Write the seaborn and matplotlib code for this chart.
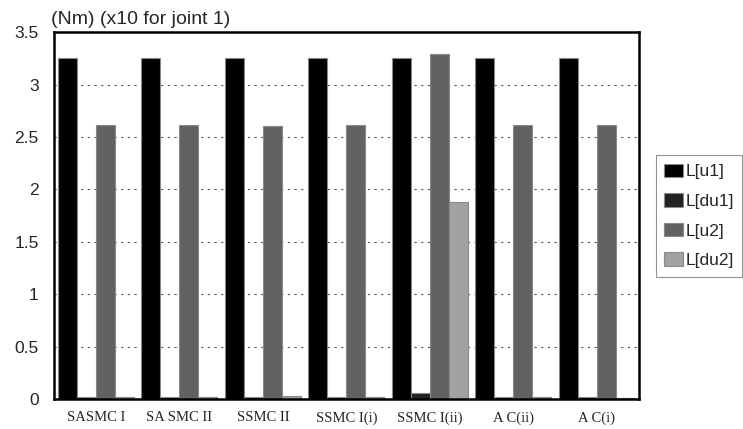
import matplotlib
matplotlib.use("Agg")
import matplotlib.pyplot as plt
import seaborn as sns
import pandas as pd

categories = ["SASMC I", "SA SMC II", "SSMC II", "SSMC I(i)", "SSMC I(ii)", "A C(ii)", "A C(i)"]
series_names = ["L[u1]", "L[du1]", "L[u2]", "L[du2]"]
L_u1 = [3.25, 3.25, 3.25, 3.25, 3.25, 3.25, 3.25]
L_du1 = [0.02, 0.02, 0.02, 0.02, 0.06, 0.02, 0.02]
L_u2 = [2.61, 2.61, 2.60, 2.61, 3.29, 2.61, 2.61]
L_du2 = [0.02, 0.02, 0.03, 0.02, 1.88, 0.02, 0.01]
colors = ["#000000", "#222222", "#626262", "#a2a2a2"]

rows = []
for name, vals in zip(series_names, [L_u1, L_du1, L_u2, L_du2]):
    for c, v in zip(categories, vals):
        rows.append({"cat": c, "series": name, "value": v})
df = pd.DataFrame(rows)

sns.set_style("white")
plt.rcParams["font.family"] = ["Liberation Sans", "DejaVu Sans"]

fig = plt.figure(figsize=(7.43, 4.29), dpi=100)
ax = fig.add_axes([0.0727, 0.07, 0.787, 0.855])
sns.barplot(data=df, x="cat", y="value", hue="series", order=categories,
            hue_order=series_names, palette=colors, width=0.91,
            edgecolor="#8a8a8a", linewidth=0.8, ax=ax, legend=True)

ax.set_ylim(0, 3.5)
ax.set_xlim(-0.5, len(categories) - 0.5)
ax.set_yticks([0, 0.5, 1, 1.5, 2, 2.5, 3, 3.5])
ax.set_yticklabels(["0", "0.5", "1", "1.5", "2", "2.5", "3", "3.5"], fontsize=12.5)
for y in [0.5, 1, 1.5, 2, 2.5, 3]:
    ax.axhline(y, color="#555555", linestyle=(0, (2, 4)), linewidth=0.8, zorder=0)
ax.set_xlabel("")
ax.set_ylabel("")
ax.tick_params(axis="y", length=0, pad=11)
ax.tick_params(axis="x", length=0, pad=9)
for lab in ax.get_xticklabels():
    lab.set_fontfamily("Liberation Serif")
    lab.set_fontsize(10.5)
for s in ax.spines.values():
    s.set_color("black")
    s.set_linewidth(1.8)

fig.text(0.069, 0.935, "(Nm) (x10 for joint 1)", fontsize=14, ha="left", va="bottom")

leg = ax.legend(loc="upper left", bbox_to_anchor=(1.029, 0.665), frameon=True,
                fontsize=12.5, handlelength=1.1, handleheight=0.8, handletextpad=0.1,
                borderpad=0.5, labelspacing=0.8, fancybox=False, borderaxespad=0)
leg.get_frame().set_edgecolor("#777777")
leg.get_frame().set_linewidth(0.8)
for h in leg.legend_handles:
    h.set_edgecolor("#8a8a8a")

fig.savefig("out.png", dpi=100)
